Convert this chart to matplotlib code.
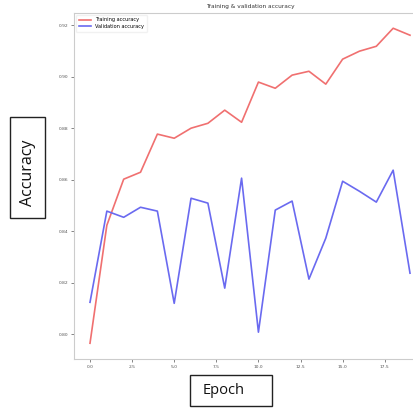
import numpy as np
import matplotlib
matplotlib.use('Agg')
import matplotlib.pyplot as plt
from matplotlib.patches import Rectangle

### data
epochs = np.arange(20)
train_acc = [0.7965, 0.8423, 0.8602, 0.8629, 0.8777, 0.8761, 0.8800, 0.8819, 0.8870, 0.8823,
             0.8979, 0.8955, 0.9006, 0.9021, 0.8971, 0.9068, 0.9099, 0.9118, 0.9188, 0.9161]
val_acc = [0.8124, 0.8478, 0.8454, 0.8493, 0.8478, 0.8120, 0.8528, 0.8509, 0.8179, 0.8606,
           0.8008, 0.8482, 0.8517, 0.8214, 0.8373, 0.8594, 0.8555, 0.8513, 0.8637, 0.8237]
x_ticks = [0.0, 2.5, 5.0, 7.5, 10.0, 12.5, 15.0, 17.5]
y_ticks = [0.80, 0.82, 0.84, 0.86, 0.88, 0.90, 0.92]

### figure
W, H = 414, 409
fig = plt.figure(figsize=(W / 100, H / 100), dpi=100)
ax = fig.add_axes([74 / W, 50 / H, 352 / W, 346.5 / H])

ax.plot(epochs, train_acc, color='#f07070', lw=1.2, label='Training accuracy')
ax.plot(epochs, val_acc, color='#6a6af0', lw=1.2, label='Validation accuracy')

ax.set_xticks(x_ticks)
ax.set_yticks(y_ticks)
ax.set_xticklabels([f'{t:.1f}' for t in x_ticks])
ax.set_yticklabels([f'{t:.2f}' for t in y_ticks])
ax.tick_params(labelsize=3.2, colors='#555555', length=2, width=0.5, pad=2)
for s in ax.spines.values():
    s.set_color('#cccccc')
    s.set_linewidth(0.8)
ax.set_title('Training & validation accuracy', fontsize=4.2, color='#333333', pad=3)
ax.legend(loc='upper left', fontsize=3.6, frameon=True, framealpha=0.8,
          edgecolor='#eeeeee', handlelength=2.5, borderpad=0.5, labelspacing=0.3)

#### label boxes
fig.add_artist(Rectangle((10 / W, 1 - 218 / H), 35 / W, 101 / H, transform=fig.transFigure,
                         fill=False, edgecolor='#222222', lw=1.0))
fig.text(28 / W, 1 - 173 / H, 'Accuracy', rotation=90, fontsize=11.5, ha='center', va='center',
         family='Open Sans', color='#111111')
fig.add_artist(Rectangle((190 / W, 1 - 406 / H), 82 / W, 31 / H, transform=fig.transFigure,
                         fill=False, edgecolor='#222222', lw=1.0))
fig.text(203 / W, 1 - 390 / H, 'Epoch', fontsize=10.5, ha='left', va='center',
         family='Open Sans', color='#111111')

fig.savefig('out.png', dpi=100)
